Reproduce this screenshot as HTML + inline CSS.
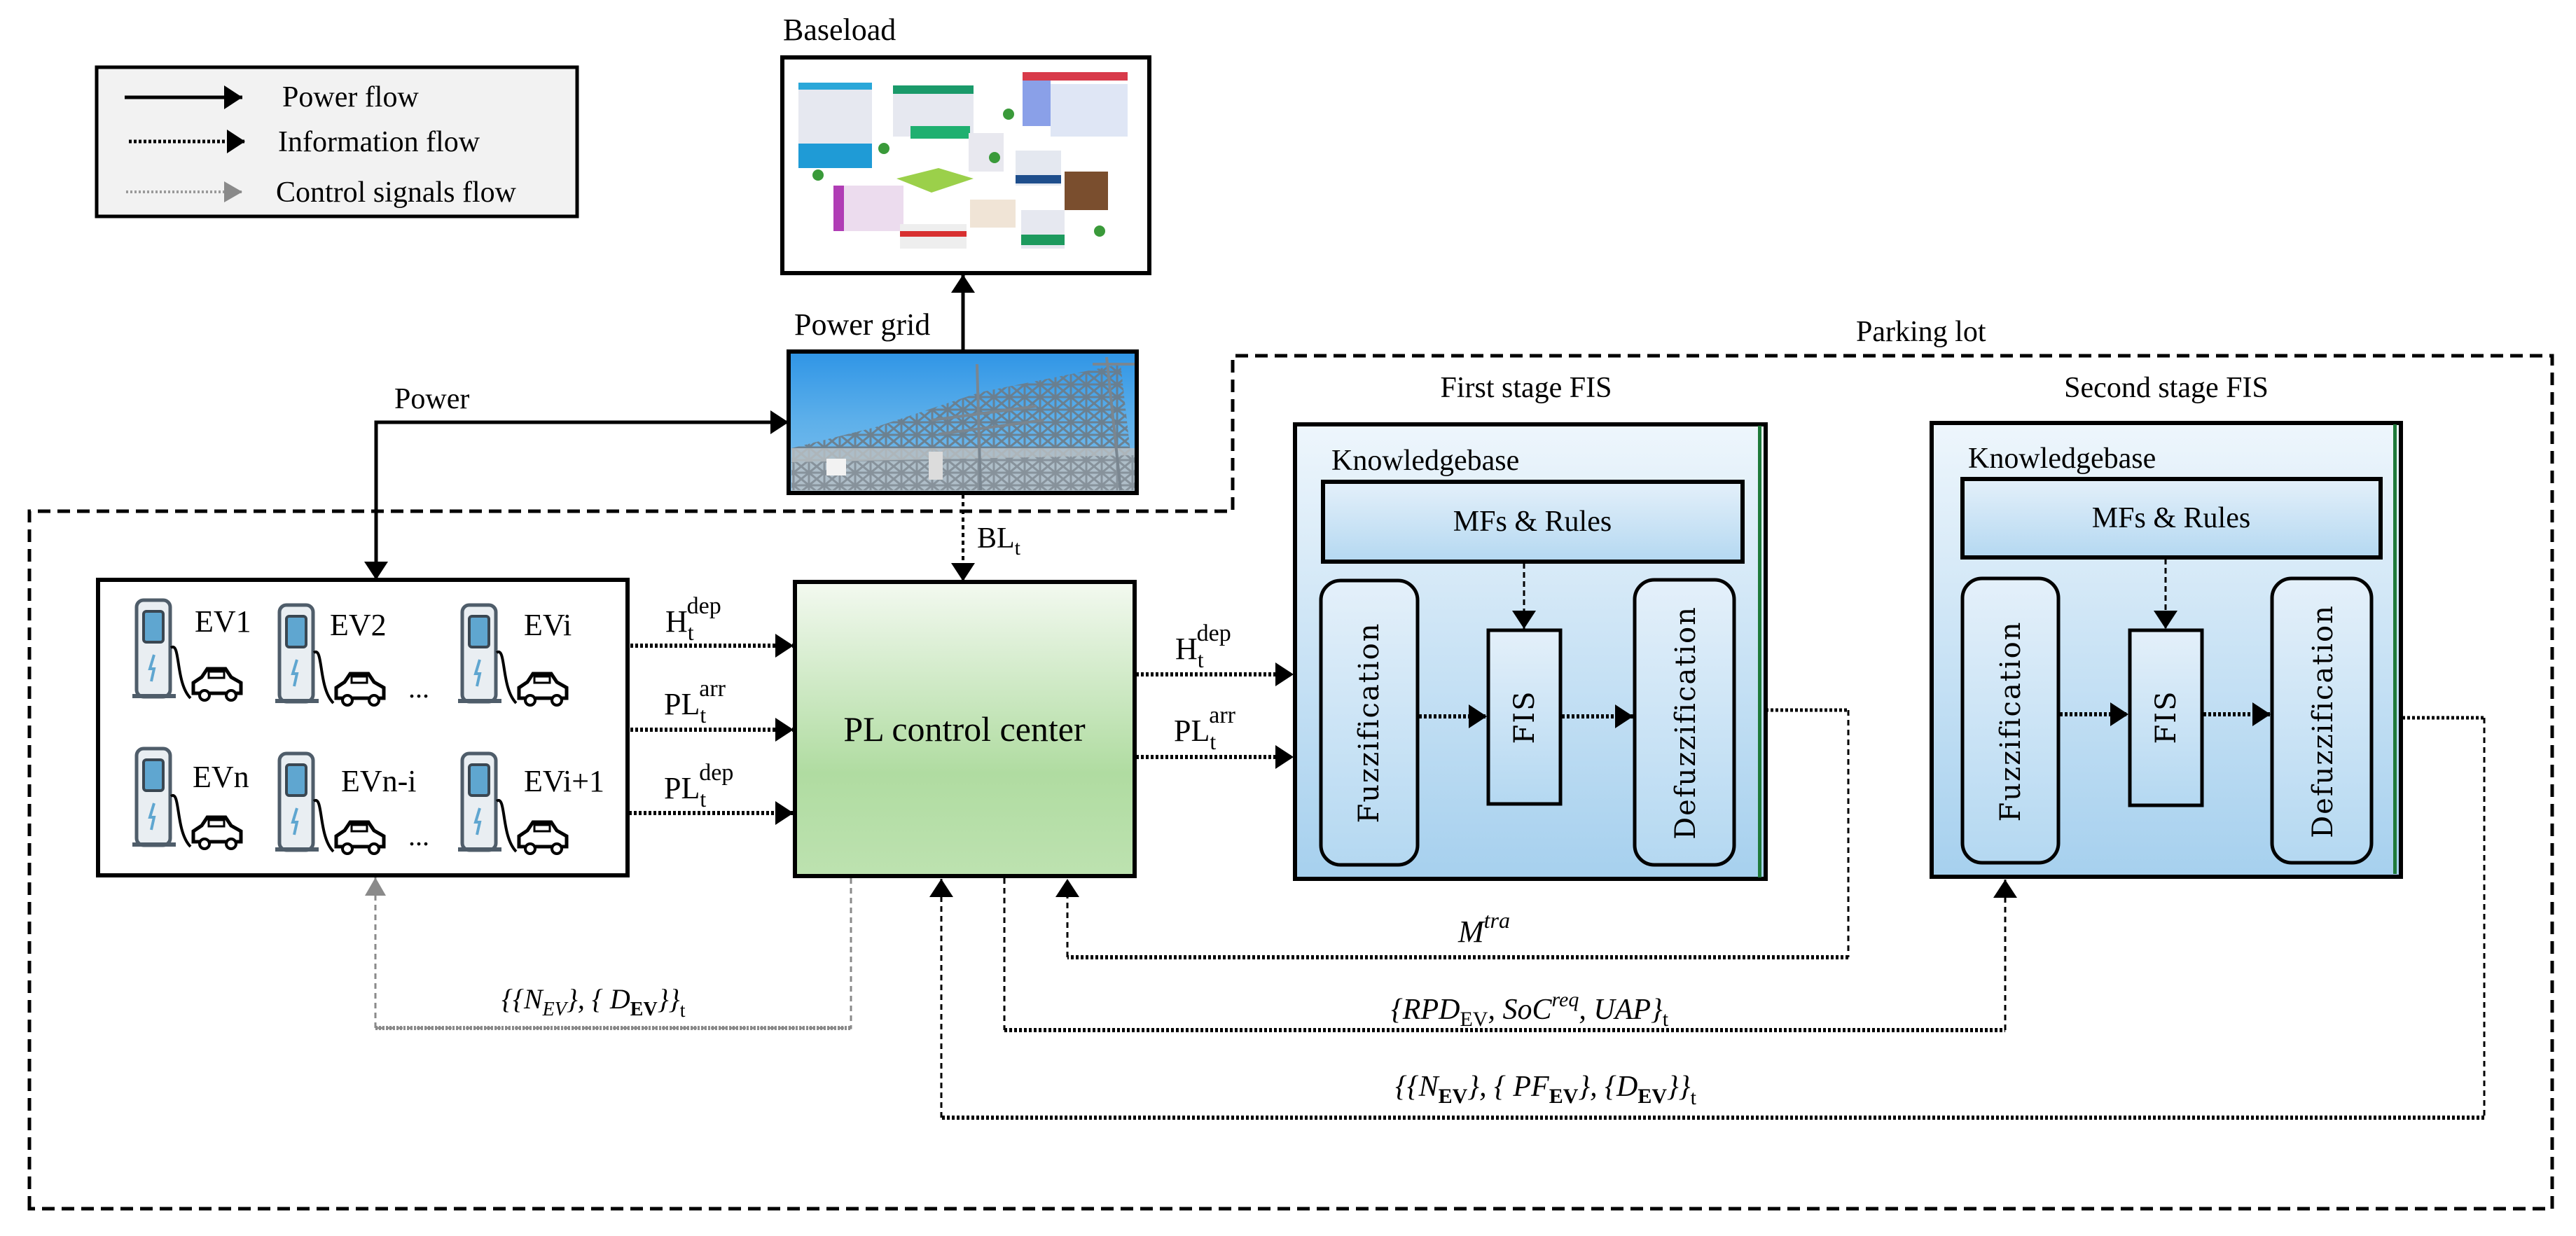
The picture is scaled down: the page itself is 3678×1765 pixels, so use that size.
<!DOCTYPE html>
<html><head><meta charset="utf-8"><style>
html,body{margin:0;padding:0;background:#fff;}
svg{display:block;}
text{font-family:"Liberation Serif","DejaVu Serif",serif;fill:#000;}
.it{font-style:italic;}
.wide{font-family:"DejaVu Serif","Liberation Serif",serif;}
</style></head><body>
<svg width="3678" height="1765" viewBox="0 0 3678 1765" xmlns="http://www.w3.org/2000/svg" font-family="Liberation Serif, DejaVu Serif, serif">
<defs>
<marker id="ab" viewBox="0 0 10 10" refX="10" refY="5" markerWidth="26" markerHeight="34" orient="auto" markerUnits="userSpaceOnUse" preserveAspectRatio="none"><path d="M0,0 L10,5 L0,10 z" fill="#000"/></marker>
<marker id="ag" viewBox="0 0 10 10" refX="10" refY="5" markerWidth="26" markerHeight="30" orient="auto" markerUnits="userSpaceOnUse" preserveAspectRatio="none"><path d="M0,0 L10,5 L0,10 z" fill="#8a8a8a"/></marker>
<linearGradient id="gfis" x1="0" y1="0" x2="0" y2="1"><stop offset="0" stop-color="#eef6fc"/><stop offset="1" stop-color="#a6d0ee"/></linearGradient>
<linearGradient id="gin" x1="0" y1="0" x2="0" y2="1"><stop offset="0" stop-color="#e4f0fa"/><stop offset="1" stop-color="#b4d8f1"/></linearGradient>
<linearGradient id="ggreen" x1="0" y1="0" x2="0" y2="1"><stop offset="0" stop-color="#f3f9f0"/><stop offset="0.65" stop-color="#b0dca1"/><stop offset="1" stop-color="#bde2b0"/></linearGradient>
<linearGradient id="gsky" x1="0" y1="0" x2="0" y2="1"><stop offset="0" stop-color="#2f95e6"/><stop offset="0.5" stop-color="#5eb0ea"/><stop offset="1" stop-color="#7fc0ee"/></linearGradient>
<pattern id="lat" width="22" height="18" patternUnits="userSpaceOnUse"><path d="M0,0 L22,18 M22,0 L0,18 M0,9 L22,9 M11,0 L11,18" stroke="#6d7b86" stroke-width="3"/></pattern>
<g id="chg">
 <rect x="3" y="2" width="48" height="138" rx="10" fill="#e9eef2" stroke="#4f5d6a" stroke-width="5"/>
 <rect x="13" y="18" width="28" height="44" rx="4" fill="#5fa6d0" stroke="#3a4752" stroke-width="4"/>
 <path d="M28,80 L22,100 L28,100 L24,118" stroke="#5fa6d0" stroke-width="4" fill="none"/>
 <rect x="-3" y="136" width="62" height="6" fill="#4f5d6a"/>
 <path d="M52,70 C66,60 58,120 80,142" stroke="#000" stroke-width="4" fill="none"/>
 <path d="M84,135 L84,120 L96,112 L104,100 L130,100 L138,112 L152,120 L152,135 Z" fill="#fff" stroke="#000" stroke-width="5"/>
 <circle cx="100" cy="138" r="7" fill="#fff" stroke="#000" stroke-width="4"/>
 <circle cx="138" cy="138" r="7" fill="#fff" stroke="#000" stroke-width="4"/>
 <rect x="106" y="104" width="22" height="9" fill="none" stroke="#000" stroke-width="3"/>
</g>
</defs>

<!-- Legend -->
<rect x="138" y="96" width="686" height="213" fill="#f2f2f2" stroke="#000" stroke-width="5"/>
<line x1="178" y1="139" x2="346" y2="139" stroke="#000" stroke-width="5" marker-end="url(#ab)"/>
<text x="403" y="152" font-size="42">Power flow</text>
<line x1="184" y1="202" x2="350" y2="202" stroke="#000" stroke-width="5" stroke-dasharray="4 3" marker-end="url(#ab)"/>
<text x="397" y="216" font-size="42">Information flow</text>
<line x1="180" y1="274" x2="346" y2="274" stroke="#9a9a9a" stroke-width="4" stroke-dasharray="3 3" marker-end="url(#ag)"/>
<text x="394" y="288" font-size="42">Control signals flow</text>

<!-- Baseload -->
<text x="1118" y="57" font-size="44">Baseload</text>
<rect x="1117" y="82" width="524" height="308" fill="#fff" stroke="#000" stroke-width="6"/>
<g>
 <rect x="1140" y="125" width="105" height="115" fill="#e6e8f0"/><rect x="1140" y="205" width="105" height="35" fill="#1f9bd6"/><rect x="1140" y="118" width="105" height="10" fill="#2aa7d9"/>
 <rect x="1275" y="130" width="115" height="65" fill="#e6e8f0"/><rect x="1275" y="122" width="115" height="12" fill="#1a9a6a"/><rect x="1300" y="180" width="85" height="18" fill="#1fb070"/>
 <rect x="1460" y="110" width="40" height="70" fill="#8aa0e8"/><rect x="1500" y="120" width="110" height="75" fill="#dfe6f5"/><rect x="1460" y="103" width="150" height="12" fill="#d83a4a"/>
 <rect x="1383" y="190" width="50" height="55" fill="#e8e8ef"/>
 <rect x="1450" y="215" width="65" height="50" fill="#e4e8f0"/><rect x="1450" y="250" width="65" height="12" fill="#1e4e8c"/>
 <rect x="1520" y="245" width="62" height="55" fill="#7a4e2e"/>
 <rect x="1190" y="265" width="100" height="65" fill="#ecdcee"/><rect x="1190" y="265" width="15" height="65" fill="#b03db5"/>
 <path d="M1280,255 L1340,240 L1390,255 L1330,275 Z" fill="#9bd04a"/>
 <rect x="1385" y="285" width="65" height="40" fill="#f0e4d6"/>
 <rect x="1458" y="300" width="62" height="55" fill="#e6e8f0"/><rect x="1458" y="335" width="62" height="15" fill="#1d9a5e"/>
 <rect x="1285" y="320" width="95" height="35" fill="#eeeeee"/><rect x="1285" y="330" width="95" height="8" fill="#d83030"/>
 <circle cx="1168" cy="250" r="8" fill="#3a9a3a"/><circle cx="1420" cy="225" r="8" fill="#3a9a3a"/><circle cx="1440" cy="163" r="8" fill="#3a9a3a"/><circle cx="1570" cy="330" r="8" fill="#3a9a3a"/><circle cx="1262" cy="212" r="8" fill="#3a9a3a"/>
</g>
<line x1="1375" y1="502" x2="1375" y2="392" stroke="#000" stroke-width="5" marker-end="url(#ab)"/>

<!-- Power grid -->
<text x="1134" y="478" font-size="44">Power grid</text>
<rect x="1126" y="502" width="497" height="202" fill="url(#gsky)"/>
<path d="M1130,640 L1250,610 L1400,560 L1600,520 L1620,700 L1130,700 Z" fill="url(#lat)" opacity="0.9"/>
<rect x="1130" y="640" width="490" height="62" fill="#b9bec2" opacity="0.85"/>
<path d="M1130,660 L1620,650 L1620,700 L1130,700 Z" fill="url(#lat)" opacity="0.6"/>
<g stroke="#7a8690" stroke-width="4" fill="none">
 <path d="M1330,600 L1480,580 M1340,620 L1490,600 M1395,520 L1400,700 M1580,510 L1600,700 M1560,520 L1620,520"/>
</g>
<rect x="1180" y="655" width="28" height="24" fill="#f2f2f2"/><rect x="1326" y="645" width="20" height="40" fill="#dcdcdc"/>
<rect x="1126" y="502" width="497" height="202" fill="none" stroke="#000" stroke-width="6"/>

<!-- Power line -->
<text x="563" y="583" font-size="42">Power</text>
<polyline points="537,830 537,603 1126,603" fill="none" stroke="#000" stroke-width="5" marker-end="url(#ab)"/>
<line x1="537" y1="603" x2="537" y2="828" stroke="#000" stroke-width="5" marker-end="url(#ab)"/>

<!-- Parking lot dashed border -->
<text x="2650" y="487" font-size="42">Parking lot</text>
<path d="M42,1726 L42,730 L1760,730 L1760,508 L3644,508 L3644,1726 Z" fill="none" stroke="#000" stroke-width="5" stroke-dasharray="18 10"/>

<!-- BL_t -->
<line x1="1375" y1="706" x2="1375" y2="830" stroke="#000" stroke-width="4" stroke-dasharray="6 5" marker-end="url(#ab)"/>
<text x="1395" y="782" font-size="42">BL<tspan font-size="30" dy="10">t</tspan></text>

<!-- EV box -->
<rect x="140" y="828" width="756" height="422" fill="#fff" stroke="#000" stroke-width="6"/>
<use href="#chg" x="192" y="855"/>
<use href="#chg" x="396" y="862"/>
<use href="#chg" x="657" y="862"/>
<use href="#chg" x="192" y="1067"/>
<use href="#chg" x="396" y="1074"/>
<use href="#chg" x="657" y="1074"/>
<text x="278" y="902" font-size="44">EV1</text>
<text x="471" y="907" font-size="44">EV2</text>
<text x="748" y="907" font-size="44">EVi</text>
<text x="275" y="1124" font-size="44">EVn</text>
<text x="487" y="1130" font-size="44">EVn-i</text>
<text x="748" y="1130" font-size="44">EVi+1</text>
<text x="583" y="996" font-size="40">...</text>
<text x="583" y="1207" font-size="40">...</text>

<!-- EV -> PL arrows -->
<g stroke="#000" stroke-width="6" stroke-dasharray="4 3" fill="none">
 <line x1="900" y1="922" x2="1133" y2="922" marker-end="url(#ab)"/>
 <line x1="900" y1="1042" x2="1133" y2="1042" marker-end="url(#ab)"/>
 <line x1="898" y1="1161" x2="1133" y2="1161" marker-end="url(#ab)"/>
</g>
<text x="950" y="902" font-size="44">H<tspan font-size="32" dy="12">t</tspan><tspan font-size="34" dx="-10" dy="-38">dep</tspan></text>
<text x="948" y="1020" font-size="44">PL<tspan font-size="32" dy="12">t</tspan><tspan font-size="34" dx="-10" dy="-38">arr</tspan></text>
<text x="948" y="1140" font-size="44">PL<tspan font-size="32" dy="12">t</tspan><tspan font-size="34" dx="-10" dy="-38">dep</tspan></text>

<!-- PL control center -->
<rect x="1135" y="831" width="485" height="420" fill="url(#ggreen)" stroke="#000" stroke-width="6"/>
<text x="1377" y="1058" font-size="50" text-anchor="middle">PL control center</text>

<!-- PL -> FIS1 -->
<g stroke="#000" stroke-width="6" stroke-dasharray="4 3" fill="none">
 <line x1="1622" y1="963" x2="1847" y2="963" marker-end="url(#ab)"/>
 <line x1="1622" y1="1081" x2="1847" y2="1081" marker-end="url(#ab)"/>
</g>
<text x="1678" y="941" font-size="44">H<tspan font-size="32" dy="12">t</tspan><tspan font-size="34" dx="-10" dy="-38">dep</tspan></text>
<text x="1676" y="1058" font-size="44">PL<tspan font-size="32" dy="12">t</tspan><tspan font-size="34" dx="-10" dy="-38">arr</tspan></text>

<!-- FIS 1 -->
<text x="2179" y="567" font-size="42" text-anchor="middle">First stage FIS</text>
<rect x="1849" y="606" width="672" height="649" fill="url(#gfis)" stroke="#000" stroke-width="6"/>
<rect x="2510" y="608" width="5" height="645" fill="#1f7a3a"/>
<text x="1901" y="671" font-size="42">Knowledgebase</text>
<rect x="1889" y="688" width="599" height="114" fill="url(#gin)" stroke="#000" stroke-width="6"/>
<text x="2188" y="758" font-size="42" text-anchor="middle">MFs &amp; Rules</text>
<rect x="1886" y="829" width="138" height="406" rx="28" fill="url(#gin)" stroke="#000" stroke-width="5"/>
<rect x="2125" y="900" width="103" height="248" fill="url(#gin)" stroke="#000" stroke-width="5"/>
<rect x="2334" y="828" width="142" height="407" rx="28" fill="url(#gin)" stroke="#000" stroke-width="5"/>
<text class="wide" transform="translate(1968,1032) rotate(-90)" font-size="40" text-anchor="middle" letter-spacing="2">Fuzzification</text>
<text class="wide" transform="translate(2190,1024) rotate(-90)" font-size="40" text-anchor="middle" letter-spacing="2">FIS</text>
<text class="wide" transform="translate(2420,1032) rotate(-90)" font-size="40" text-anchor="middle" letter-spacing="2">Defuzzification</text>
<line x1="2176" y1="804" x2="2176" y2="898" stroke="#000" stroke-width="3" stroke-dasharray="8 5" marker-end="url(#ab)"/>
<g stroke="#000" stroke-width="6" stroke-dasharray="4 3" fill="none">
 <line x1="2026" y1="1023" x2="2123" y2="1023" marker-end="url(#ab)"/>
 <line x1="2230" y1="1023" x2="2332" y2="1023" marker-end="url(#ab)"/>
</g>

<!-- FIS 2 -->
<text x="3093" y="567" font-size="42" text-anchor="middle">Second stage FIS</text>
<rect x="2758" y="604" width="670" height="648" fill="url(#gfis)" stroke="#000" stroke-width="6"/>
<rect x="3417" y="606" width="5" height="642" fill="#1f7a3a"/>
<text x="2810" y="668" font-size="42">Knowledgebase</text>
<rect x="2802" y="684" width="597" height="112" fill="url(#gin)" stroke="#000" stroke-width="6"/>
<text x="3100" y="753" font-size="42" text-anchor="middle">MFs &amp; Rules</text>
<rect x="2802" y="826" width="137" height="406" rx="28" fill="url(#gin)" stroke="#000" stroke-width="5"/>
<rect x="3041" y="900" width="103" height="250" fill="url(#gin)" stroke="#000" stroke-width="5"/>
<rect x="3244" y="826" width="142" height="406" rx="28" fill="url(#gin)" stroke="#000" stroke-width="5"/>
<text class="wide" transform="translate(2884,1030) rotate(-90)" font-size="40" text-anchor="middle" letter-spacing="2">Fuzzification</text>
<text class="wide" transform="translate(3106,1024) rotate(-90)" font-size="40" text-anchor="middle" letter-spacing="2">FIS</text>
<text class="wide" transform="translate(3330,1030) rotate(-90)" font-size="40" text-anchor="middle" letter-spacing="2">Defuzzification</text>
<line x1="3092" y1="798" x2="3092" y2="898" stroke="#000" stroke-width="3" stroke-dasharray="8 5" marker-end="url(#ab)"/>
<g stroke="#000" stroke-width="6" stroke-dasharray="4 3" fill="none">
 <line x1="2941" y1="1020" x2="3039" y2="1020" marker-end="url(#ab)"/>
 <line x1="3146" y1="1020" x2="3242" y2="1020" marker-end="url(#ab)"/>
</g>

<!-- gray control -->
<g fill="none" stroke="#8a8a8a" stroke-width="3">
 <polyline points="1215,1254 1215,1468 536,1468" stroke-dasharray="8 6"/>
 <line x1="536" y1="1468" x2="536" y2="1253" stroke-dasharray="8 6" marker-end="url(#ag)"/>
</g>
<line x1="536" y1="1468" x2="1215" y2="1468" stroke="#8a8a8a" stroke-width="6" stroke-dasharray="3 2"/>
<text x="716" y="1440" font-size="40" class="it">{{N<tspan font-size="28" dy="10">EV</tspan><tspan dy="-10">}, { D</tspan><tspan font-size="28" font-weight="bold" font-style="normal" dy="10">EV</tspan><tspan dy="-10">}}</tspan><tspan font-size="28" font-style="normal" dy="12">t</tspan></text>

<!-- M tra -->
<polyline points="2521,1014 2639,1014" fill="none" stroke="#000" stroke-width="5" stroke-dasharray="4 3"/>
<line x1="2639" y1="1014" x2="2639" y2="1367" stroke="#000" stroke-width="3" stroke-dasharray="8 6"/>
<line x1="2639" y1="1367" x2="1524" y2="1367" stroke="#000" stroke-width="6" stroke-dasharray="4 3"/>
<line x1="1524" y1="1367" x2="1524" y2="1255" stroke="#000" stroke-width="3" stroke-dasharray="8 6" marker-end="url(#ab)"/>
<text x="2082" y="1345" font-size="44" class="it">M<tspan font-size="32" dy="-20">tra</tspan></text>

<!-- RPD line -->
<line x1="1434" y1="1254" x2="1434" y2="1471" stroke="#000" stroke-width="3" stroke-dasharray="8 6"/>
<line x1="1434" y1="1471" x2="2863" y2="1471" stroke="#000" stroke-width="6" stroke-dasharray="4 3"/>
<line x1="2863" y1="1471" x2="2863" y2="1256" stroke="#000" stroke-width="3" stroke-dasharray="8 6" marker-end="url(#ab)"/>
<text x="1986" y="1455" font-size="42" class="it">{RPD<tspan font-size="30" font-style="normal" dy="10">EV</tspan><tspan dy="-10">, SoC</tspan><tspan font-size="30" dy="-18">req</tspan><tspan dy="18">, UAP}</tspan><tspan font-size="30" font-style="normal" dy="10">t</tspan></text>

<!-- third line -->
<polyline points="3430,1025 3547,1025" fill="none" stroke="#000" stroke-width="5" stroke-dasharray="4 3"/>
<line x1="3547" y1="1025" x2="3547" y2="1596" stroke="#000" stroke-width="3" stroke-dasharray="8 6"/>
<line x1="3547" y1="1596" x2="1344" y2="1596" stroke="#000" stroke-width="6" stroke-dasharray="4 3"/>
<line x1="1344" y1="1596" x2="1344" y2="1255" stroke="#000" stroke-width="3" stroke-dasharray="8 6" marker-end="url(#ab)"/>
<text x="1992" y="1565" font-size="42" class="it">{{N<tspan font-size="30" font-weight="bold" font-style="normal" dy="10">EV</tspan><tspan dy="-10">}, { PF</tspan><tspan font-size="30" font-weight="bold" font-style="normal" dy="10">EV</tspan><tspan dy="-10">}, {D</tspan><tspan font-size="30" font-weight="bold" font-style="normal" dy="10">EV</tspan><tspan dy="-10">}}</tspan><tspan font-size="30" font-style="normal" dy="12">t</tspan></text>
</svg>
</body></html>
